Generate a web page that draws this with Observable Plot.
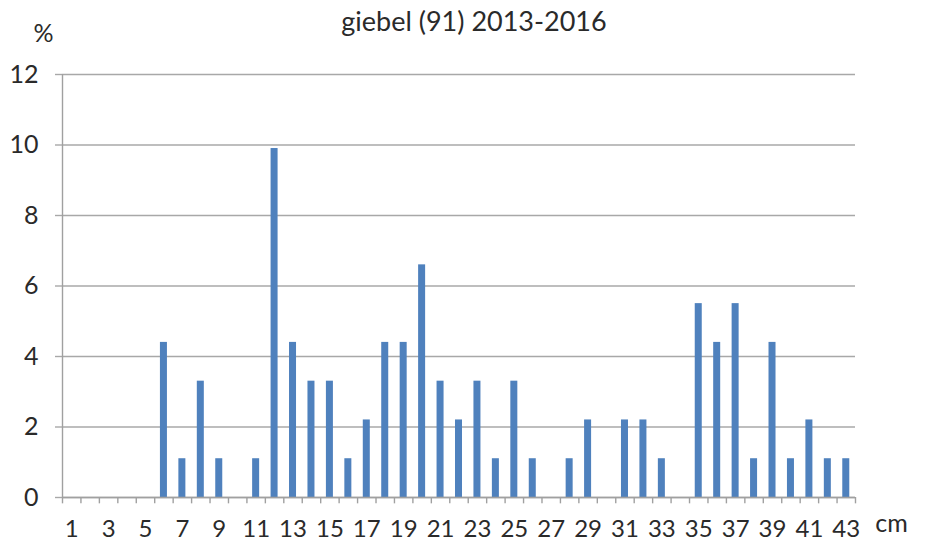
<!DOCTYPE html>
<html>
<head>
<meta charset="utf-8">
<script src="https://cdn.jsdelivr.net/npm/d3@7"></script>
<script src="https://cdn.jsdelivr.net/npm/@observablehq/plot@0.6"></script>
<style>
  html, body { margin: 0; padding: 0; background: #fff; }
  svg { font-family: Lato, "Open Sans", sans-serif; }
</style>
</head>
<body>
<div id="chart"></div>
<script>
const title = "giebel (91) 2013-2016";
const lengthsCm = [1,2,3,4,5,6,7,8,9,10,11,12,13,14,15,16,17,18,19,20,21,22,23,24,25,26,27,28,29,30,31,32,33,34,35,36,37,38,39,40,41,42,43];
const percent = [0,0,0,0,0,4.4,1.1,3.3,1.1,0,1.1,9.9,4.4,3.3,3.3,1.1,2.2,4.4,4.4,6.6,3.3,2.2,3.3,1.1,3.3,1.1,0,1.1,2.2,0,2.2,2.2,1.1,0,5.5,4.4,5.5,1.1,4.4,1.1,2.2,1.1,1.1];
const yTicks = [0,2,4,6,8,10,12];
const xTickLabels = [1,3,5,7,9,11,13,15,17,19,21,23,25,27,29,31,33,35,37,39,41,43];

const data = lengthsCm.map((c, i) => ({cm: c, pct: percent[i]}));
const half = 0.19;
const boundaries = [lengthsCm[0] - 0.5, ...lengthsCm.map(c => c + 0.5)];
const fs = 25;
const ink = "#2a2a2a";

const plot = Plot.plot({
  width: 930,
  height: 542,
  marginLeft: 62,
  marginRight: 75,
  marginTop: 74,
  marginBottom: 45,
  style: {fontSize: fs + "px", color: ink, background: "#fff"},
  x: {domain: [lengthsCm[0] - 0.5, lengthsCm[lengthsCm.length - 1] + 0.5]},
  y: {domain: [0, 12]},
  marks: [
    Plot.gridY(yTicks, {stroke: "#a8a8a8", strokeOpacity: 1, strokeWidth: 1.4}),
    Plot.ruleY(yTicks, {y: d => d, x1: lengthsCm[0] - 0.5 - 0.38, x2: lengthsCm[0] - 0.5, stroke: "#a8a8a8", strokeWidth: 1.4}),
    Plot.ruleX([lengthsCm[0] - 0.5], {y1: 0, y2: 12, stroke: "#a0a0a0", strokeWidth: 1.4}),
    Plot.rectY(data, {x1: d => d.cm - half, x2: d => d.cm + half, y: "pct", fill: "#4f81bd"}),
    Plot.ruleY([0], {stroke: "#a0a0a0", strokeWidth: 1.4}),
    Plot.ruleX(boundaries, {x: d => d, y1: 0, y2: -0.18, stroke: "#a0a0a0", strokeWidth: 1.4}),
    Plot.axisY(yTicks, {tickSize: 0, tickPadding: 24, fontSize: fs, fill: ink, label: null}),
    Plot.axisX(xTickLabels, {tickSize: 0, tickPadding: 22, fontSize: 24, fill: ink, label: null, lineAnchor: "middle", dy: 10}),
    Plot.text([title], {frameAnchor: "top", textAnchor: "middle", lineAnchor: "middle", dx: 15, dy: -52, fontSize: 27, fill: ink}),
    Plot.text(["%"], {frameAnchor: "top-left", textAnchor: "middle", lineAnchor: "middle", dx: -19, dy: -41, fontSize: fs, fill: ink}),
    Plot.text(["cm"], {frameAnchor: "bottom-right", textAnchor: "middle", lineAnchor: "middle", dx: 36, dy: 26, fontSize: fs, fill: ink})
  ]
});
document.getElementById("chart").appendChild(plot);
</script>
</body>
</html>
